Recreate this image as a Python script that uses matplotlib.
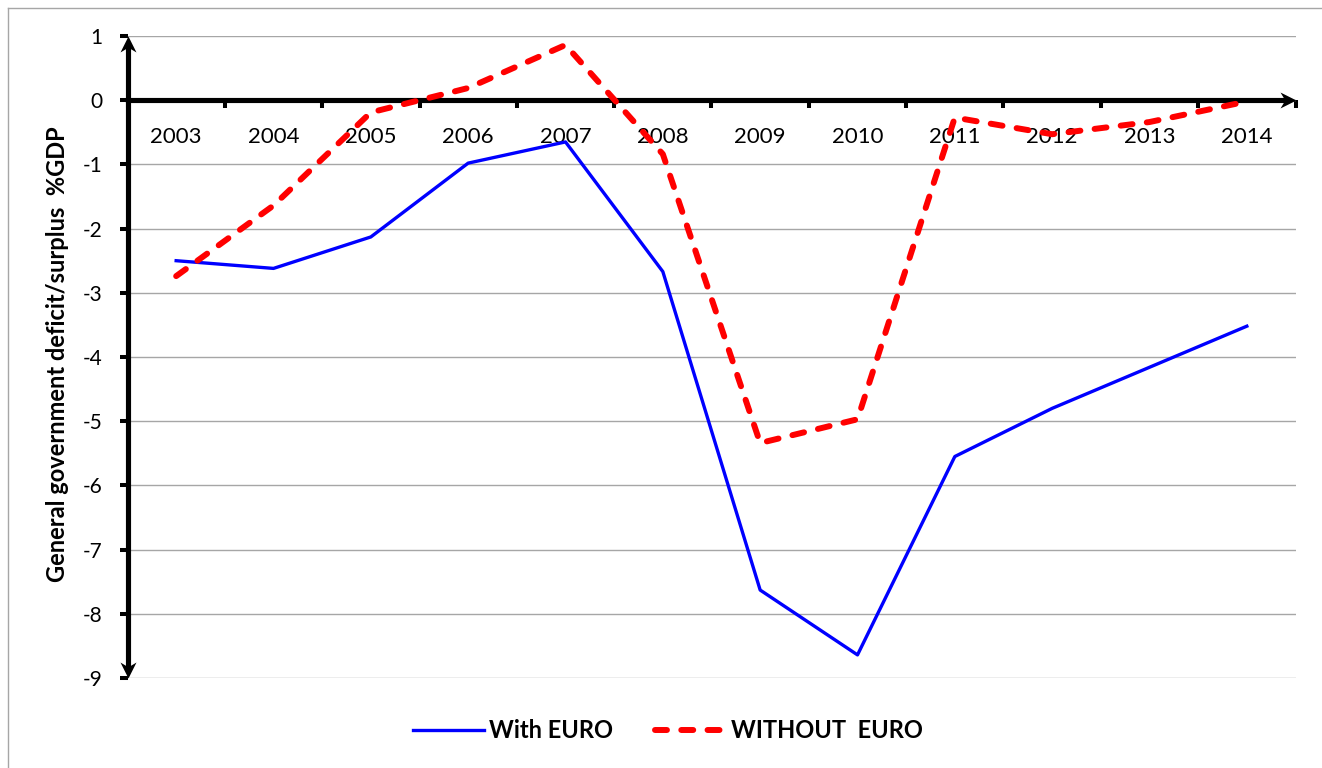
import matplotlib
matplotlib.use('Agg')
import matplotlib.pyplot as plt
from matplotlib.path import Path
from matplotlib.lines import Line2D
import numpy as np

# ---- data ----
years = ['2003', '2004', '2005', '2006', '2007', '2008',
         '2009', '2010', '2011', '2012', '2013', '2014']
with_euro = [-2.50, -2.62, -2.13, -0.98, -0.65, -2.67,
             -7.63, -8.64, -5.55, -4.80, -4.16, -3.52]
without_euro = [-2.74, -1.64, -0.19, 0.19, 0.86, -0.84,
                -5.34, -4.97, -0.27, -0.53, -0.34, -0.02]
y_ticks = list(range(-9, 2))
y_label = 'General government deficit/surplus  %GDP'
series_names = ['With EURO', 'WITHOUT  EURO']

plt.rcParams['font.family'] = ['Lato', 'DejaVu Sans']

W, H = 1322, 768
fig = plt.figure(figsize=(W / 100, H / 100), dpi=100)
L, R, T, B = 127.5, 1295.5, 36, 678
ax = fig.add_axes([L / W, 1 - B / H, (R - L) / W, (B - T) / H])

x = np.arange(len(years))
ax.plot(x, with_euro, color='#0000ff', lw=2.4, label=series_names[0], zorder=4)
ax.plot(x, without_euro, color='#ff0000', lw=4.3, dashes=(2, 2.4),
        dash_capstyle='round', label=series_names[1], zorder=5)

ax.set_xlim(-0.5, len(years) - 0.5)
ax.set_ylim(min(y_ticks), max(y_ticks))

# y axis
ax.set_yticks(y_ticks)
ax.set_yticklabels([str(v) for v in y_ticks])
ax.tick_params(axis='y', direction='out', length=5.8, width=2.9, pad=12,
               labelsize=15, color='black')
ax.grid(axis='y', color='#a6a6a6', lw=1.0)
ax.set_axisbelow(True)

# x axis
ax.set_xticks(x)
ax.set_xticklabels(years)
ax.set_xticks(np.arange(-0.5, len(years), 1.0), minor=True)
ax.tick_params(axis='x', which='major', length=0, pad=19, labelsize=16)
ax.tick_params(axis='x', which='minor', direction='out', length=5.8, width=2.9)

for s in ['top', 'right']:
    ax.spines[s].set_visible(False)
ax.spines['left'].set_linewidth(3.7)
ax.spines['bottom'].set_linewidth(3.7)
ax.spines['bottom'].set_position(('data', 0))
ax.spines['left'].set_bounds(min(y_ticks) + 0.15, max(y_ticks) - 0.15)
ax.spines['bottom'].set_bounds(-0.5, len(years) - 0.5 - 0.11)

# arrowheads (stealth style)
up = Path([(0, 0), (-0.5, -1), (0, -0.7), (0.5, -1), (0, 0)],
          [Path.MOVETO, Path.LINETO, Path.LINETO, Path.LINETO, Path.CLOSEPOLY])
down = Path([(0, 0), (-0.5, 1), (0, 0.7), (0.5, 1), (0, 0)],
            [Path.MOVETO, Path.LINETO, Path.LINETO, Path.LINETO, Path.CLOSEPOLY])
right = Path([(0, 0), (-1, 0.5), (-0.7, 0), (-1, -0.5), (0, 0)],
             [Path.MOVETO, Path.LINETO, Path.LINETO, Path.LINETO, Path.CLOSEPOLY])
ax.plot([0], [1], marker=up, ms=23, mew=0, color='black', transform=ax.transAxes,
        clip_on=False, zorder=6)
ax.plot([0], [0], marker=down, ms=23, mew=0, color='black', transform=ax.transAxes,
        clip_on=False, zorder=6)
ax.plot([1], [0], marker=right, ms=23, mew=0, color='black',
        transform=ax.get_yaxis_transform(), clip_on=False, zorder=3)

# y label
fig.text(65 / W, 1 - 354 / H, y_label, rotation=90, rotation_mode='anchor',
         ha='center', va='baseline', fontsize=17, fontweight='bold')

# legend
fig.legend(loc='center', bbox_to_anchor=(668 / W, 1 - 731 / H), ncol=2,
           frameon=False, prop={'weight': 'bold', 'size': 17},
           handlelength=3.0, handletextpad=0.25, columnspacing=1.75)

# outer frame
fig.add_artist(Line2D([7.5 / W, 7.5 / W], [0, 1 - 7.5 / H], transform=fig.transFigure,
                      color='#a6a6a6', lw=1))
fig.add_artist(Line2D([7.5 / W, 1], [1 - 7.5 / H, 1 - 7.5 / H], transform=fig.transFigure,
                      color='#a6a6a6', lw=1))

fig.savefig('out.png', dpi=100)
